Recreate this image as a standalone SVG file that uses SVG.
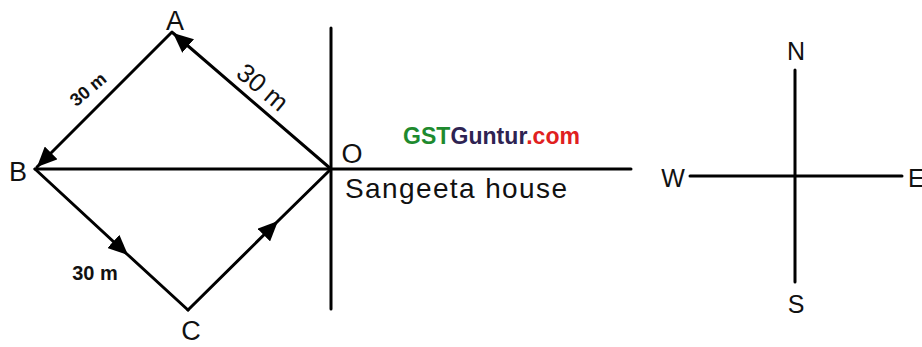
<svg xmlns="http://www.w3.org/2000/svg" width="922" height="347" viewBox="0 0 922 347">
<style>
.ln{stroke:#000;stroke-width:3;fill:none;stroke-linecap:round;stroke-linejoin:round}
.t{font-family:"Liberation Sans",Arial,sans-serif;fill:#111}
</style>
<defs>
<marker id="ah" markerUnits="userSpaceOnUse" markerWidth="22" markerHeight="18" refX="20" refY="9" orient="auto">
<path d="M0,0 L20,9 L0,18 z" fill="#000"/>
</marker>
</defs>
<rect width="922" height="347" fill="#fff"/>
<g id="connectors">
<line class="ln" x1="331" y1="28" x2="331" y2="309"/>
<line class="ln" x1="35" y1="169" x2="631" y2="169"/>
<line class="ln" x1="331" y1="169" x2="173" y2="33" marker-end="url(#ah)"/>
<line class="ln" x1="172" y1="32" x2="37" y2="167" marker-end="url(#ah)"/>
<path class="ln" d="M35,169 L128,255 L188,310" marker-mid="url(#ah)"/>
<path class="ln" d="M188,310 L278,221 L331,169" marker-mid="url(#ah)"/>
</g>
<g id="node-A"><text class="t" x="175" y="30" font-size="27" text-anchor="middle">A</text></g>
<g id="node-B"><text class="t" x="18" y="181" font-size="27" text-anchor="middle">B</text></g>
<g id="node-C"><text class="t" x="191" y="340" font-size="27" text-anchor="middle">C</text></g>
<g id="node-O"><text class="t" x="352" y="163" font-size="27" text-anchor="middle">O</text></g>
<g id="labels">
<text class="t" font-size="18" font-weight="bold" text-anchor="middle" transform="translate(92,94) rotate(-40)">30 m</text>
<text class="t" font-size="26" text-anchor="middle" transform="translate(257,94) rotate(40)">30 m</text>
<text class="t" font-size="20" font-weight="bold" text-anchor="middle" x="95" y="280">30 m</text>
<text class="t" font-size="28" textLength="222" x="345" y="198">Sangeeta house</text>
<text font-family="Liberation Sans,Arial,sans-serif" font-size="23" font-weight="bold" x="403" y="144" textLength="177"><tspan fill="#1e8a2e">GST</tspan><tspan fill="#2e2352">Guntur</tspan><tspan fill="#e02020">.com</tspan></text>
</g>
<g id="compass">
<line class="ln" x1="795" y1="70" x2="795" y2="282"/>
<line class="ln" x1="690" y1="176" x2="902" y2="176"/>
<text class="t" font-size="25" x="796" y="60" text-anchor="middle">N</text>
<text class="t" font-size="25" x="796" y="313" text-anchor="middle">S</text>
<text class="t" font-size="25" x="673" y="187" text-anchor="middle">W</text>
<text class="t" font-size="25" x="908" y="187">E</text>
</g>
</svg>
